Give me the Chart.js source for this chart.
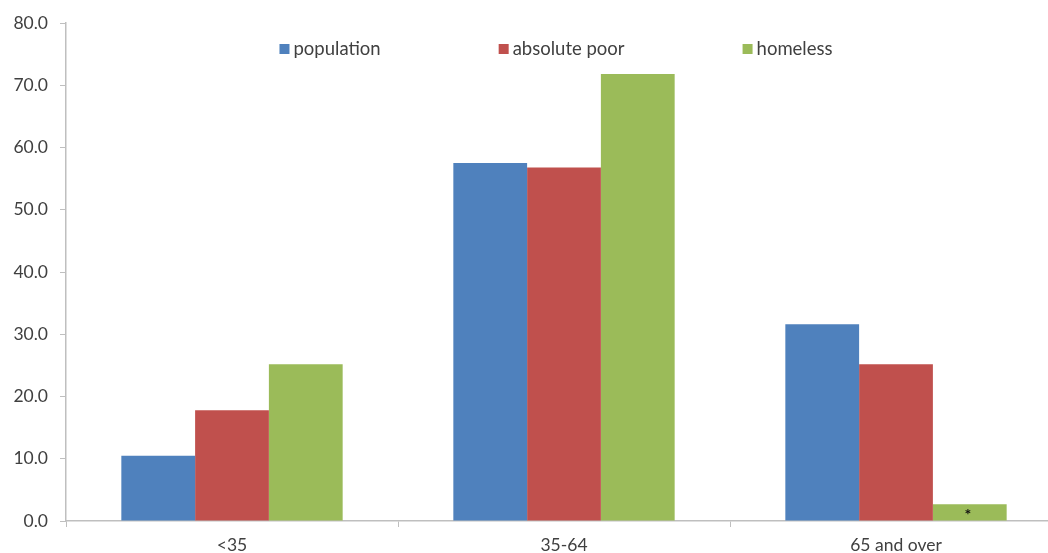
<!DOCTYPE html>
<html>
<head>
<meta charset="utf-8">
<script src="https://cdn.jsdelivr.net/npm/chart.js@4.4.1/dist/chart.umd.min.js"></script>
<style>
  html, body { margin: 0; padding: 0; background: #fff; overflow: hidden; }
  #wrap { width: 1062px; height: 553px; }
</style>
</head>
<body>
<div id="wrap"><canvas id="barChart" width="1062" height="553"></canvas></div>
<script>
// datos
var categorias = ['<35', '35-64', '65 and over'];
var poblacion = [10.5, 57.5, 31.6];
var pobreAbsoluto = [17.8, 56.8, 25.2];
var sinHogar = [25.2, 71.8, 2.7];
var notasSinHogar = ['', '', '*']; // asterisco sobre la barra pequeña
var ticksY = [0, 10, 20, 30, 40, 50, 60, 70, 80];

var fuente = 'Lato, "Open Sans", sans-serif';

// leyenda propia, dentro del area del grafico
var leyendaPlugin = {
    id: 'leyendaPropia',
    afterDraw: function(chart) {
        var ctx = chart.ctx;
        var area = chart.chartArea;
        var gap = 118;
        var box = 10;
        ctx.save();
        ctx.font = '18.5px ' + fuente;
        ctx.textBaseline = 'middle';
        var items = chart.data.datasets.map(function(ds) {
            return { label: ds.label, color: ds.backgroundColor, w: box + 4 + ctx.measureText(ds.label).width };
        });
        var total = items.reduce(function(s, it) { return s + it.w; }, 0) + gap * (items.length - 1);
        var x = (area.left + area.right) / 2 - total / 2 - 8;
        var y = area.top + 26;
        items.forEach(function(it) {
            ctx.fillStyle = it.color;
            ctx.fillRect(x, y - box / 2, box, box);
            ctx.fillStyle = '#404040';
            ctx.fillText(it.label, x + box + 4, y);
            x += it.w + gap;
        });
        ctx.restore();
    }
};

// dibuja las notas (asterisco) en el centro de cada barra
var notasPlugin = {
    id: 'notas',
    afterDatasetsDraw: function(chart) {
        var ctx = chart.ctx;
        var meta = chart.getDatasetMeta(2);
        ctx.save();
        ctx.fillStyle = '#111';
        ctx.font = 'bold 16px ' + fuente;
        ctx.textAlign = 'center';
        ctx.textBaseline = 'middle';
        meta.data.forEach(function(bar, i) {
            if (notasSinHogar[i]) {
                ctx.fillText(notasSinHogar[i], bar.x - 2, (bar.y + bar.base) / 2 + 2);
            }
        });
        ctx.restore();
    }
};

var ctx = document.getElementById('barChart').getContext('2d');
window.myBarChart = new Chart(ctx, {
    type: 'bar',
    data: {
        labels: categorias,
        datasets: [
            { label: 'population', data: poblacion, backgroundColor: '#4F81BD' },
            { label: 'absolute poor', data: pobreAbsoluto, backgroundColor: '#C0504D' },
            { label: 'homeless', data: sinHogar, backgroundColor: '#9BBB59' }
        ]
    },
    options: {
        responsive: false,
        animation: false,
        categoryPercentage: 3 / 4.5,
        barPercentage: 1.0,
        layout: { padding: { top: 23, right: 0, bottom: 0, left: 0 } },
        plugins: {
            legend: { display: false },
            tooltip: { enabled: false }
        },
        scales: {
            x: {
                offset: true,
                grid: { drawOnChartArea: false, tickLength: 6, color: '#bfbfbf', offset: true },
                border: { color: '#bfbfbf', width: 1.5 },
                ticks: { color: '#404040', font: { family: fuente, size: 17.5 }, padding: 8, maxRotation: 0 },
                afterFit: function(scale) { scale.height = 32; }
            },
            y: {
                min: 0,
                max: 80,
                afterBuildTicks: function(scale) {
                    scale.ticks = ticksY.map(function(v) { return { value: v }; });
                },
                grid: { drawOnChartArea: false, tickLength: 6, color: '#bfbfbf' },
                border: { color: '#bfbfbf', width: 1.5 },
                ticks: {
                    color: '#404040',
                    font: { family: fuente, size: 17.5 },
                    padding: 12,
                    callback: function(v) { return Number(v).toFixed(1); }
                },
                afterFit: function(scale) { scale.width = 66; }
            }
        }
    },
    plugins: [leyendaPlugin, notasPlugin]
});
</script>
</body>
</html>
